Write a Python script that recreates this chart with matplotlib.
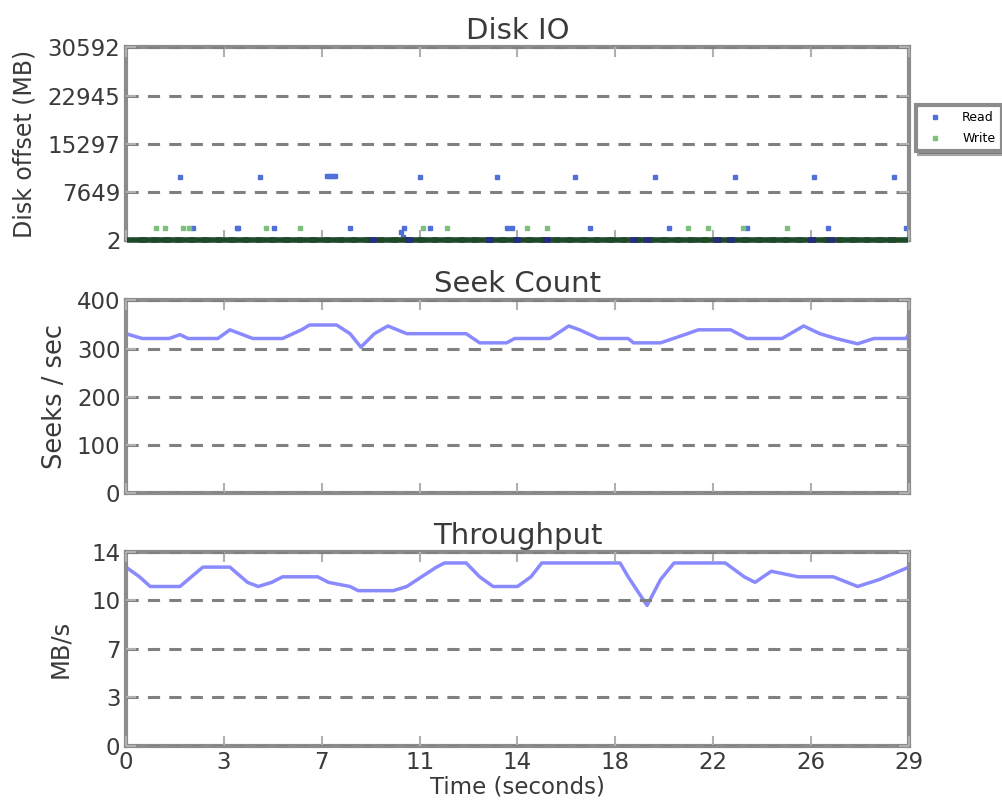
import matplotlib
matplotlib.use('Agg')
import matplotlib.pyplot as plt
import numpy as np

# x axis labels (ticks evenly spaced over 0..29)
time_labels = ['0', '3', '7', '11', '14', '18', '22', '26', '29']

# disk io - reads, upper row
read_hi_t = [2.0, 4.95, 7.45, 7.55, 7.65, 7.75, 10.9, 13.75, 16.65, 19.6, 22.55, 25.5, 28.45]
read_hi_y = [10100, 10100, 10150, 10150, 10150, 10150, 10100, 10100, 10100, 10100, 10100, 10100, 10100]
# reads, lower row
read_lo_t = [2.48, 4.1, 4.15, 5.5, 8.3, 10.2, 10.25, 10.3, 11.25, 14.1, 14.3, 17.2, 20.1, 23.0, 26.0, 28.9]
read_lo_y = [1900, 1900, 1900, 1900, 1900, 1300, 600, 1900, 1900, 1900, 1900, 1900, 1900, 1900, 1900, 1900]
# reads near offset 0
read_zero_t = [9.15, 10.5, 13.5, 14.5, 15.6, 18.8, 19.3, 21.9, 22.4, 25.4, 26.1]
read_zero_y = [2, 2, 2, 2, 2, 2, 2, 2, 2, 2, 2]

# disk io - writes
write_lo_t = [1.1, 1.45, 2.1, 2.35, 5.2, 6.45, 11.0, 11.9, 14.85, 15.6, 20.8, 21.55, 22.85, 24.5]
write_lo_y = [1900, 1900, 1900, 1900, 1900, 1900, 1900, 1900, 1900, 1900, 1900, 1900, 1900, 1900]
write_zero_t = [0.4, 0.85, 1.3, 1.75, 2.2, 2.7, 3.2, 3.7, 4.2, 4.7, 5.2, 5.7, 6.2, 6.7, 7.2,
                7.7, 8.2, 8.7, 9.2, 9.7, 10.2, 10.7, 11.2, 11.7, 12.2, 12.7, 13.2, 13.7,
                14.2, 14.7, 15.2, 15.7, 16.2, 16.7, 17.2, 17.7, 18.2, 18.7, 19.2, 19.7,
                20.2, 20.7, 21.2, 21.7, 22.2, 22.7, 23.2, 23.7, 24.2, 24.7, 25.2, 25.7,
                26.2, 26.7, 27.2, 27.7, 28.15, 28.6]
write_zero_y = [2] * len(write_zero_t)

# seek count
seek_t = [0, 0.6, 1.6, 2.0, 2.3, 3.4, 3.85, 4.7, 5.8, 6.5, 6.8, 7.8, 8.3, 8.7, 9.2, 9.7,
          10.4, 12.6, 13.1, 14.1, 14.4, 15.7, 16.4, 16.8, 17.5, 18.6, 18.8, 19.8, 20.8,
          21.2, 22.4, 23.0, 24.3, 25.1, 25.7, 26.3, 27.1, 27.7, 28.9, 29]
seek_v = [331, 321, 321, 329, 321, 321, 339, 321, 321, 339, 349, 349, 331, 303, 331, 347,
          331, 331, 312, 312, 321, 321, 347, 339, 321, 321, 312, 312, 331, 339, 339, 321,
          321, 347, 331, 321, 310, 321, 321, 331]

# throughput
tp_t = [0, 0.5, 0.9, 2.0, 2.3, 2.85, 3.85, 4.5, 4.9, 5.4, 5.8, 7.1, 7.5, 8.3, 8.6, 9.9,
        10.4, 11.5, 11.8, 12.6, 13.1, 13.6, 14.5, 15.0, 15.4, 18.3, 18.6, 19.3, 19.8,
        20.3, 22.2, 22.9, 23.3, 23.9, 24.9, 26.2, 27.1, 27.9, 29]
tp_v = [12.9, 12.2, 11.5, 11.5, 12.0, 12.9, 12.9, 11.8, 11.5, 11.8, 12.2, 12.2, 11.8, 11.5,
        11.2, 11.2, 11.5, 12.9, 13.2, 13.2, 12.2, 11.5, 11.5, 12.2, 13.2, 13.2, 12.2, 10.13,
        12.0, 13.2, 13.2, 12.2, 11.8, 12.6, 12.2, 12.2, 11.5, 12.0, 12.9]

GRAY = '#8c8c8c'
TXT = '#3a3a3a'


def style_axis(ax, title, ylabel, ymin, ymax, ylabels, ysize, lpad):
    ax.set_xlim(0, 29)
    ax.set_ylim(ymin, ymax)
    ax.set_xticks(np.linspace(0, 29, 9))
    ax.set_xticklabels(time_labels)
    ax.set_yticks(np.linspace(ymin, ymax, 5))
    ax.set_yticklabels(ylabels)
    ax.set_title(title, fontsize=21, color=TXT, pad=6)
    ax.set_ylabel(ylabel, fontsize=ysize, color=TXT, labelpad=lpad)
    for s in ax.spines.values():
        s.set_color(GRAY)
        s.set_linewidth(3)
    ax.tick_params(direction='in', top=True, right=True, length=7, width=1.5,
                   color='#b0b0b0', labelsize=16.5, labelcolor=TXT, pad=4)
    ax.yaxis.grid(True, color='#808080', linestyle=(0, (4, 3)), linewidth=2.2)
    ax.set_axisbelow(False)


def main():
    fig = plt.figure(figsize=(10.03, 8.01), dpi=100)
    ax1 = fig.add_axes([0.1256, 0.700, 0.7806, 0.241])
    ax2 = fig.add_axes([0.1256, 0.384, 0.7806, 0.241])
    ax3 = fig.add_axes([0.1256, 0.069, 0.7806, 0.242])

    # disk io
    style_axis(ax1, 'Disk IO', 'Disk offset (MB)', 2, 30592,
               ['2', '7649', '15297', '22945', '30592'], 17, 8)
    ax1.set_xticklabels([])
    ax1.plot(write_zero_t, write_zero_y, linestyle='none', marker='_', markersize=15,
             mew=4, color='#1f4a2a', clip_on=False, zorder=5)
    ax1.plot(read_zero_t, read_zero_y, linestyle='none', marker='_', markersize=6,
             mew=4, color='#252e78', clip_on=False, zorder=6)
    ax1.plot(read_hi_t + read_lo_t, read_hi_y + read_lo_y, linestyle='none', marker='s',
             markersize=3, color='#5070d8', label='Read')
    ax1.plot(write_lo_t, write_lo_y, linestyle='none', marker='s', markersize=3,
             color='#7cc07c', label='Write')
    leg = ax1.legend(loc='upper left', bbox_to_anchor=(1.009, 0.70), fontsize=9,
                     shadow=True, fancybox=False, borderaxespad=0, handlelength=2.0,
                     handletextpad=1.2, borderpad=0.5, labelspacing=0.6)
    leg.get_frame().set_edgecolor(GRAY)
    leg.get_frame().set_linewidth(3)

    # seek count
    style_axis(ax2, 'Seek Count', 'Seeks / sec', 0, 400,
               ['0', '100', '200', '300', '400'], 18.5, 6)
    ax2.set_xticklabels([])
    ax2.plot(seek_t, seek_v, color='#8a8aff', linewidth=2.5)

    # throughput
    style_axis(ax3, 'Throughput', 'MB/s', 0, 14, ['0', '3', '7', '10', '14'], 17.5, 14)
    ax3.plot(tp_t, tp_v, color='#8a8aff', linewidth=2.5)
    ax3.set_xlabel('Time (seconds)', fontsize=16.5, color=TXT, labelpad=1)

    fig.savefig('out.png', dpi=100)


main()
